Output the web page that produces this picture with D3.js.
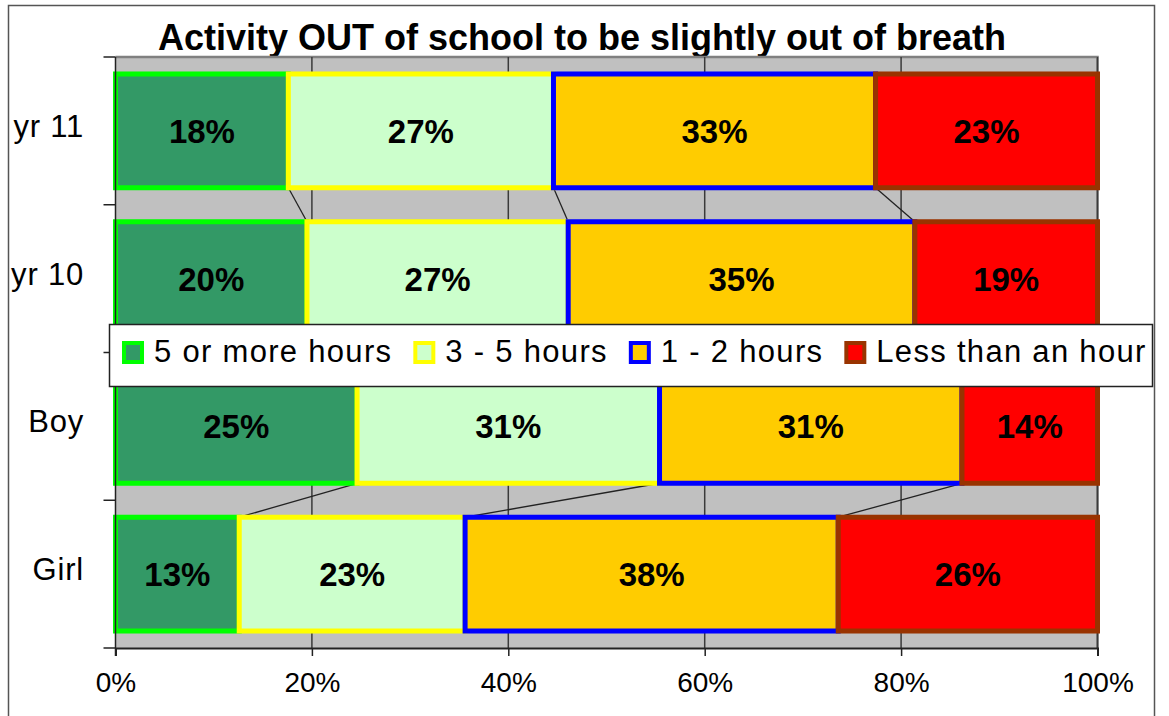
<!DOCTYPE html>
<html>
<head>
<meta charset="utf-8">
<script src="https://cdn.jsdelivr.net/npm/d3@7"></script>
<style>
  body { margin: 0; background: #fff; }
  svg { display: block; font-family: "Liberation Sans", Arial, sans-serif; }
</style>
</head>
<body>
<svg id="chart" width="1169" height="716"></svg>
<script>
(function() {
// values (percent of pupils per group)
const groups = ['yr 11', 'yr 10', 'Boy', 'Girl'];
const series = ['5 or more hours', '3 - 5 hours', '1 - 2 hours', 'Less than an hour'];
const fiveOrMore = [17.6, 19.5, 24.6, 12.6];
const threeToFive = [27.0, 26.6, 30.8, 23.0];
const oneToTwo = [32.8, 35.3, 30.8, 38.0];
const lessThanHour = [22.6, 18.6, 13.8, 26.4];
const xTicks = [0, 20, 40, 60, 80, 100];

const fills = ['#339966', '#CCFFCC', '#FFCC00', '#FF0000'];
const borders = ['#00FF00', '#FFFF00', '#0000FF', '#993300'];

const rows = groups.map((g, i) => ({
  group: g,
  '5 or more hours': fiveOrMore[i],
  '3 - 5 hours': threeToFive[i],
  '1 - 2 hours': oneToTwo[i],
  'Less than an hour': lessThanHour[i]
}));
const stacked = d3.stack().keys(series)(rows);

const svg = d3.select('#chart');
const left = 115.5, right = 1097.5, top = 57, bottom = 648;

const x = d3.scaleLinear().domain([0, 100]).range([left, right]);
const y = d3.scaleBand().domain(groups).range([top, bottom])
  .paddingInner(0.23).paddingOuter(0.115);

// outer frame
svg.append('rect')
  .attr('x', 8.5).attr('y', 5.5).attr('width', 1146).attr('height', 720)
  .attr('fill', '#fff').attr('stroke', '#555').attr('stroke-width', 1.5);

// title
svg.append('text')
  .attr('x', 582).attr('y', 50)
  .attr('text-anchor', 'middle')
  .attr('font-size', 36).attr('font-weight', 'bold')
  .text('Activity OUT of school to be slightly out of breath');

// plot area
svg.append('rect')
  .attr('x', left).attr('y', top)
  .attr('width', right - left).attr('height', bottom - top)
  .attr('fill', '#C0C0C0');
svg.append('path')
  .attr('d', `M${left},${top}H${right}V${bottom}`)
  .attr('fill', 'none').attr('stroke', '#808080').attr('stroke-width', 2.5);

// gridlines
svg.append('g')
  .selectAll('line')
  .data(xTicks.slice(1))
  .join('line')
  .attr('x1', d => x(d)).attr('x2', d => x(d))
  .attr('y1', top).attr('y2', bottom)
  .attr('stroke', '#3a3a3a').attr('stroke-width', 1.5);

// series lines between neighbouring bars
const gaps = [];
for (let i = 0; i < groups.length - 1; i++) {
  for (let k = 0; k < series.length - 1; k++) {
    gaps.push({
      x1: x(stacked[k][i][1]), y1: y(groups[i]) + y.bandwidth(),
      x2: x(stacked[k][i + 1][1]), y2: y(groups[i + 1])
    });
  }
}
svg.append('g')
  .selectAll('line')
  .data(gaps)
  .join('line')
  .attr('x1', d => d.x1).attr('y1', d => d.y1)
  .attr('x2', d => d.x2).attr('y2', d => d.y2)
  .attr('stroke', '#222').attr('stroke-width', 1.3);

// bars
const layer = svg.append('g')
  .selectAll('g')
  .data(stacked)
  .join('g')
  .attr('fill', (d, i) => fills[i])
  .attr('stroke', (d, i) => borders[i]);

layer.selectAll('rect')
  .data(d => d)
  .join('rect')
  .attr('x', d => x(d[0]))
  .attr('y', d => y(d.data.group))
  .attr('width', d => x(d[1]) - x(d[0]))
  .attr('height', y.bandwidth())
  .attr('stroke-width', 5);

// value labels
layer.selectAll('text')
  .data(d => d)
  .join('text')
  .attr('x', d => (x(d[0]) + x(d[1])) / 2)
  .attr('y', d => y(d.data.group) + y.bandwidth() / 2)
  .attr('dy', '0.36em')
  .attr('text-anchor', 'middle')
  .attr('fill', '#000').attr('stroke', 'none')
  .attr('font-size', 33).attr('font-weight', 'bold')
  .text(d => Math.round(d[1] - d[0]) + '%');

// y axis
const yAxis = svg.append('g');
yAxis.append('line')
  .attr('x1', left).attr('x2', left).attr('y1', top).attr('y2', bottom + 8)
  .attr('stroke', '#222').attr('stroke-width', 1.5);
const yBreaks = groups.map(g => y(g) - y.step() * y.paddingInner() / 2);
yBreaks[0] = top;
yBreaks.push(bottom);
yAxis.selectAll('line.tick')
  .data(yBreaks)
  .join('line')
  .attr('class', 'tick')
  .attr('x1', left - 12).attr('x2', left)
  .attr('y1', d => d).attr('y2', d => d)
  .attr('stroke', '#222').attr('stroke-width', 1.5);
yAxis.selectAll('text')
  .data(groups)
  .join('text')
  .attr('x', 84)
  .attr('y', d => y(d) + y.bandwidth() / 2 + 6)
  .attr('text-anchor', 'end')
  .attr('font-size', 31)
  .attr('letter-spacing', 0.8)
  .text(d => d);

// x axis
const xAxis = svg.append('g')
  .attr('transform', `translate(0, ${bottom})`)
  .call(d3.axisBottom(x).tickValues(xTicks).tickSize(8).tickPadding(16)
    .tickFormat(d => d + '%'));
xAxis.select('.domain').attr('stroke', '#222').attr('stroke-width', 2);
xAxis.selectAll('.tick line').attr('stroke', '#222').attr('stroke-width', 1.5);
xAxis.selectAll('.tick text')
  .attr('font-size', 28).attr('fill', '#000')
  .attr('font-family', '"Liberation Sans", Arial, sans-serif');

// legend
const legend = svg.append('g');
legend.append('rect')
  .attr('x', 109.5).attr('y', 324.5).attr('width', 1043).attr('height', 62)
  .attr('fill', '#fff').attr('stroke', '#222').attr('stroke-width', 1.5);

let lx = 124;
series.forEach((s, i) => {
  legend.append('rect')
    .attr('x', lx).attr('y', 343).attr('width', 18).attr('height', 19)
    .attr('fill', fills[i]).attr('stroke', borders[i]).attr('stroke-width', 4);
  const t = legend.append('text')
    .attr('x', lx + 30).attr('y', 362)
    .attr('font-size', 31)
    .attr('letter-spacing', 1.3)
    .text(s);
  lx += 30 + t.node().getComputedTextLength() + 23;
});
})();
</script>
</body>
</html>
